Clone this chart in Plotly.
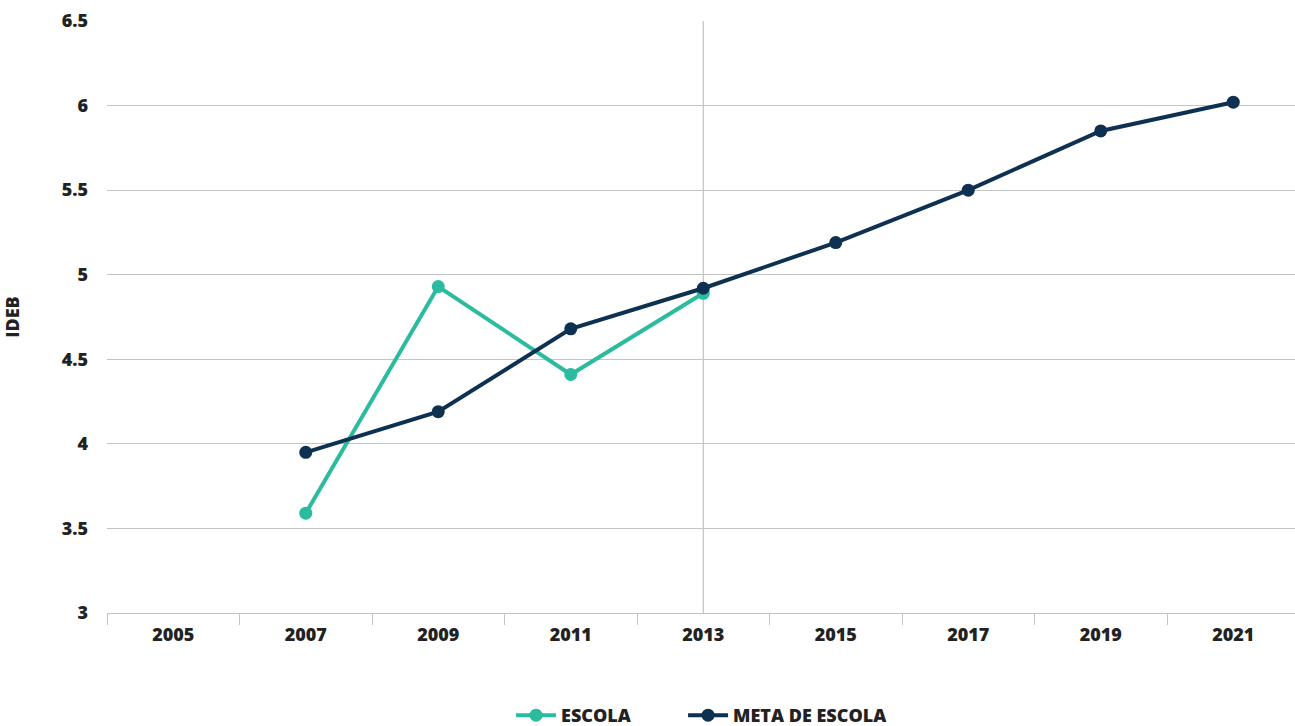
import plotly.graph_objects as go

# IDEB results and targets by year
years = ["2005", "2007", "2009", "2011", "2013", "2015", "2017", "2019", "2021"]
escola_years = ["2007", "2009", "2011", "2013"]
escola = [3.59, 4.93, 4.41, 4.89]
meta_years = ["2007", "2009", "2011", "2013", "2015", "2017", "2019", "2021"]
meta = [3.95, 4.19, 4.68, 4.92, 5.19, 5.50, 5.85, 6.02]
y_ticks = [3, 3.5, 4, 4.5, 5, 5.5, 6, 6.5]

TEAL = "#2bbb9f"
NAVY = "#0e3152"
GRID = "#c4c4c4"
TEXT = "#222222"
FONT = "Open Sans"
WEIGHT = 800

# the figure runs a few pixels past the visible page so the legend sits at the very bottom
FIG_W, FIG_H, PAGE_H = 1295, 734, 726

fig = go.Figure()
fig.add_trace(go.Scatter(
    x=escola_years, y=escola, name="ESCOLA", mode="lines+markers",
    line=dict(color=TEAL, width=4), marker=dict(color=TEAL, size=13),
    legend="legend",
))
fig.add_trace(go.Scatter(
    x=meta_years, y=meta, name="META DE ESCOLA", mode="lines+markers",
    line=dict(color=NAVY, width=4), marker=dict(color=NAVY, size=13),
    legend="legend2",
))

# vertical guide at 2013
fig.add_shape(type="line", xref="x", yref="y", x0=years.index("2013"), x1=years.index("2013"),
              y0=3, y1=6.5, line=dict(color="#b5b5b5", width=1), layer="below")

legend_style = dict(orientation="h", yref="container", y=0, yanchor="bottom",
                    xanchor="left", itemwidth=40,
                    font=dict(family=FONT, size=18, color=TEXT, weight=WEIGHT))

fig.update_layout(
    width=FIG_W, height=FIG_H,
    margin=dict(l=107, r=0, t=21, b=113 + FIG_H - PAGE_H),
    paper_bgcolor="white", plot_bgcolor="white",
    font=dict(family=FONT, size=18, color=TEXT),
    showlegend=True,
    legend=dict(x=0.3401, **legend_style),
    legend2=dict(x=0.4849, **legend_style),
)
fig.update_xaxes(
    type="category", categoryorder="array", categoryarray=years,
    range=[-0.5, 8.466], tickson="boundaries", ticks="outside", ticklen=11,
    tickcolor=GRID, tickwidth=1, showgrid=False, showline=True, linecolor=GRID,
    tickfont=dict(family=FONT, size=18, color=TEXT, weight=WEIGHT), zeroline=False,
    ticklabelstandoff=5, automargin=False,
)
fig.update_yaxes(
    range=[3, 6.5], tickvals=y_ticks, ticktext=[f"{v:g}" for v in y_ticks],
    showgrid=True, gridcolor=GRID, gridwidth=1, zeroline=False, showline=False,
    ticks="", ticklabelstandoff=18, automargin=False,
    tickfont=dict(family=FONT, size=18, color=TEXT, weight=WEIGHT),
    title=dict(text="IDEB", font=dict(family=FONT, size=18, color=TEXT, weight=WEIGHT),
               standoff=40),
)

fig.write_html(
    "out.html",
    post_script="document.documentElement.style.overflow='hidden';"
                "document.body.style.overflow='hidden';",
)
